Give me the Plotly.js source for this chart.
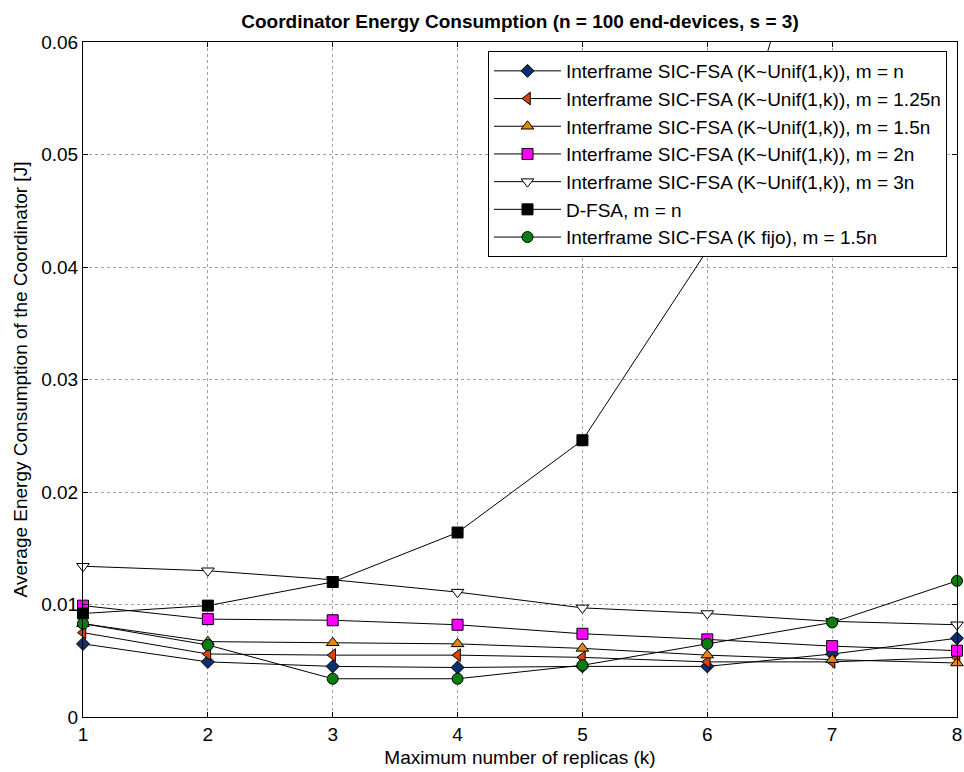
<!DOCTYPE html>
<html>
<head>
<meta charset="utf-8">
<script src="https://cdn.plot.ly/plotly-3.0.1.min.js"></script>
<style>html,body{margin:0;padding:0;background:#fff;}#chart{width:964px;height:772px;}</style>
</head>
<body>
<div id="chart"></div>
<script>
var replicas = [1, 2, 3, 4, 5, 6, 7, 8];
var unifMn    = [0.0065, 0.0049, 0.0045, 0.0044, 0.0045, 0.0045, 0.0056, 0.0070];
var unifM125n = [0.0075, 0.0056, 0.0055, 0.0055, 0.0053, 0.0049, 0.0049, 0.0053];
var unifM15n  = [0.0083, 0.0067, 0.0066, 0.0065, 0.0061, 0.0055, 0.0051, 0.0048];
var unifM2n   = [0.0099, 0.0087, 0.0086, 0.0082, 0.0074, 0.0069, 0.0063, 0.0059];
var unifM3n   = [0.0134, 0.0130, 0.0122, 0.0111, 0.0097, 0.0092, 0.0085, 0.0082];
var dfsaMn    = [0.0092, 0.0099, 0.0120, 0.0164, 0.0246, 0.0415, 0.0780, 0.1450];
var kfijoM15n = [0.0083, 0.0064, 0.0034, 0.0034, 0.0046, 0.0065, 0.0084, 0.0121];

var seriesNames = [
  'Interframe SIC-FSA (K~Unif(1,k)), m = n',
  'Interframe SIC-FSA (K~Unif(1,k)), m = 1.25n',
  'Interframe SIC-FSA (K~Unif(1,k)), m = 1.5n',
  'Interframe SIC-FSA (K~Unif(1,k)), m = 2n',
  'Interframe SIC-FSA (K~Unif(1,k)), m = 3n',
  'D-FSA, m = n',
  'Interframe SIC-FSA (K fijo), m = 1.5n'
];
var yTickVals = [0, 0.01, 0.02, 0.03, 0.04, 0.05, 0.06];
var yTickText = ['0', '0.01', '0.02', '0.03', '0.04', '0.05', '0.06'];

var seriesData = [unifMn, unifM125n, unifM15n, unifM2n, unifM3n, dfsaMn, kfijoM15n];
var styles = [
  {symbol: 'diamond', color: '#0d2f6e', size: 10},
  {symbol: 'triangle-left', color: '#e0410c', size: 11},
  {symbol: 'triangle-up', color: '#e8860c', size: 11},
  {symbol: 'square', color: '#ff00ff', size: 11},
  {symbol: 'triangle-down', color: '#ffffff', size: 11},
  {symbol: 'square', color: '#000000', size: 11},
  {symbol: 'circle', color: '#0a7f10', size: 11}
];

var traces = seriesData.map(function (ys, i) {
  return {
    x: replicas,
    y: ys,
    name: seriesNames[i],
    type: 'scatter',
    mode: 'lines+markers',
    cliponaxis: false,
    line: {color: '#000000', width: 1},
    marker: {symbol: styles[i].symbol, color: styles[i].color, size: styles[i].size,
             line: {color: '#000000', width: 1}}
  };
});

var fontFam = '"Liberation Sans", Arial, Helvetica, sans-serif';
var layout = {
  width: 964, height: 772,
  paper_bgcolor: '#ffffff', plot_bgcolor: '#ffffff',
  margin: {l: 83, r: 7, t: 42, b: 55, pad: 0},
  font: {family: fontFam, size: 19, color: '#000000'},
  showlegend: true,
  title: {
    text: '<b>Coordinator Energy Consumption (n = 100 end-devices, s = 3)</b>',
    font: {family: fontFam, size: 19, color: '#000000'},
    x: 0.5, xref: 'paper', y: (772 - 21) / 772, yref: 'container', yanchor: 'middle'
  },
  xaxis: {
    range: [1, 8],
    tickvals: replicas,
    ticks: 'inside', ticklen: 5, tickcolor: '#000000',
    ticklabeloverflow: 'allow',
    showline: true, linecolor: '#000000', linewidth: 1, mirror: 'allticks',
    showgrid: true, gridcolor: '#a0a0a0', griddash: 'dot', gridwidth: 1,
    zeroline: false,
    tickfont: {family: fontFam, size: 19, color: '#000000'},
    title: {text: 'Maximum number of replicas (k)', font: {family: fontFam, size: 19, color: '#000000'}, standoff: 6}
  },
  yaxis: {
    range: [0, 0.06],
    tickvals: yTickVals, ticktext: yTickText,
    ticks: 'inside', ticklen: 5, tickcolor: '#000000',
    ticklabeloverflow: 'allow',
    showline: true, linecolor: '#000000', linewidth: 1, mirror: 'allticks',
    showgrid: true, gridcolor: '#a0a0a0', griddash: 'dot', gridwidth: 1,
    zeroline: false,
    tickfont: {family: fontFam, size: 19, color: '#000000'},
    title: {text: 'Average Energy Consumption of the Coordinator [J]', font: {family: fontFam, size: 19, color: '#000000'}, standoff: 8}
  },
  legend: {
    x: (488 - 83) / 874, y: (717 - 51) / 675, xanchor: 'left', yanchor: 'top',
    bgcolor: '#ffffff', bordercolor: '#000000', borderwidth: 1,
    font: {family: fontFam, size: 19, color: '#000000'},
    itemwidth: 67, tracegroupgap: 0
  }
};

Plotly.newPlot('chart', traces, layout, {displayModeBar: false, staticPlot: true});
</script>
</body>
</html>
